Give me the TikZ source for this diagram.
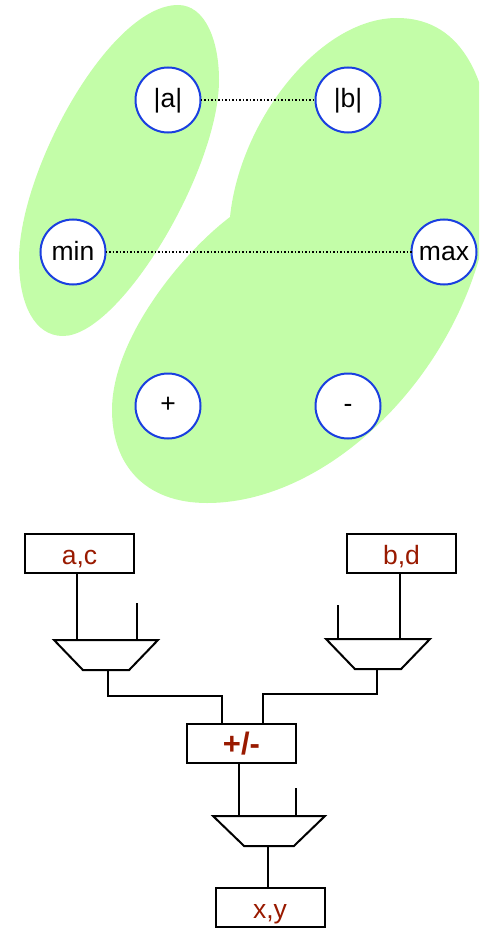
\documentclass[tikz,border=0pt]{standalone}
\usepackage{fontspec}
\setmainfont{Liberation Sans}
\usetikzlibrary{shapes.geometric}
\definecolor{blobgreen}{HTML}{C3FDA8}
\definecolor{ringblue}{HTML}{1A3FE0}
\definecolor{labelred}{HTML}{991A00}
\tikzset{
  opnode/.style={circle, draw=ringblue, fill=white, line width=2pt, minimum size=65pt, inner sep=0pt, outer sep=0pt, text height=21pt, text depth=5pt},
  regbox/.style={draw=black, fill=white, line width=2pt, minimum width=109pt, minimum height=39pt, inner sep=0pt, outer sep=0pt, text=labelred, text height=26pt, text depth=5pt},
  muxbox/.style={trapezium, shape border rotate=180, trapezium stretches=true, draw=black, fill=white, line width=2pt, inner sep=1pt, outer sep=0pt, minimum height=30pt},
  wire/.style={draw=black, line width=2pt},
  pairline/.style={draw=black, line width=1.5pt, dotted}
}
\begin{document}
\begin{tikzpicture}[x=1pt, y=-1pt, every node/.style={font=\fontsize{26.5}{30}\selectfont}]
    \useasboundingbox (0,0) rectangle (479,928);
    \clip (0,0) rectangle (479,928);

    % groups
    \fill[blobgreen] (178,5) .. controls (205,5) and (219,40) .. (219,80)
        .. controls (219,170) and (120,336) .. (63,336)
        .. controls (35,336) and (19,305) .. (19,260)
        .. controls (19,170) and (110,5) .. (178,5) -- cycle;
    \fill[blobgreen] (230,217) .. controls (240,120) and (320,18) .. (397,18)
        .. controls (465,18) and (492,85) .. (492,170)
        .. controls (492,340) and (345,503) .. (207,503)
        .. controls (145,503) and (112,465) .. (112,410)
        .. controls (112,340) and (180,255) .. (230,217) -- cycle;

    \node[opnode] (absa) at (168,100) {|a|};
    \node[opnode] (absb) at (348,100) {|b|};
    \node[opnode] (minv) at (73,252) {min};
    \node[opnode] (maxv) at (444,252) {max};
    \node[opnode, text height=17pt] (plusv) at (168,406) {+};
    \node[opnode, text height=17pt] (minusv) at (348,406) {-};

    \draw[pairline] (absa) -- (absb);
    \draw[pairline] (minv) -- (maxv);

    % datapath
    \node[regbox] (regac) at (79.5,553.5) {a,c};
    \node[regbox] (regbd) at (401.5,553.5) {b,d};
    \node[regbox, text height=28pt, font=\fontsize{31}{34}\selectfont\bfseries] (addsub) at (241.5,743) {+/-};
    \node[regbox] (regxy) at (270,907.5) {x,y};

    \node[muxbox, minimum width=104pt, trapezium angle=58] (muxa) at (106,655) {};
    \node[muxbox, minimum width=104pt, trapezium angle=58] (muxb) at (378,654) {};
    \node[muxbox, minimum width=112pt, trapezium angle=58] (muxc) at (269,831) {};

    \coordinate (stuba) at (137,603);
    \coordinate (stubb) at (338,605);
    \coordinate (stubc) at (296,788);

    \draw[wire] (77,0 |- regac.south) -- (77,0 |- muxa.north);
    \draw[wire] (stuba) -- (stuba |- muxa.north);
    \draw[wire] (400,0 |- regbd.south) -- (400,0 |- muxb.north);
    \draw[wire] (stubb) -- (stubb |- muxb.north);
    \draw[wire] (108,0 |- muxa.south) |- (222,696) -- (222,0 |- addsub.north);
    \draw[wire] (377,0 |- muxb.south) |- (263,694) -- (263,0 |- addsub.north);
    \draw[wire] (239,0 |- addsub.south) -- (239,0 |- muxc.north);
    \draw[wire] (stubc) -- (stubc |- muxc.north);
    \draw[wire] (268,0 |- muxc.south) -- (268,0 |- regxy.north);
\end{tikzpicture}
\end{document}
